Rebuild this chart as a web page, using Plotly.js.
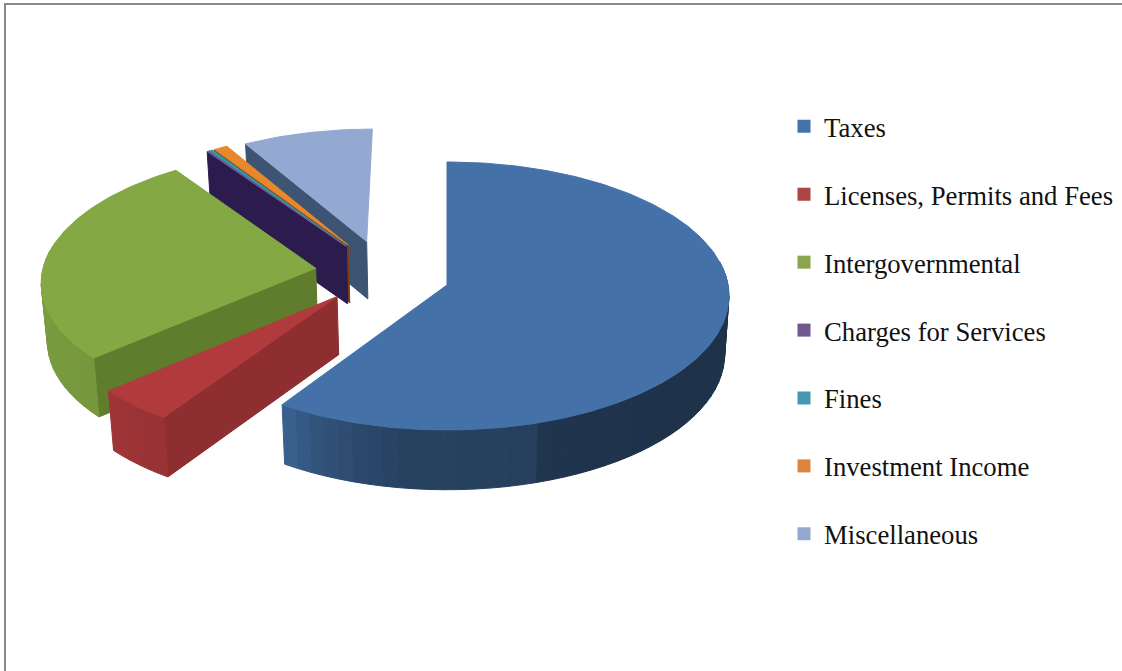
<!DOCTYPE html>
<html>
<head>
<meta charset="utf-8">
<script src="https://cdn.plot.ly/plotly-3.0.1.min.js"></script>
<style>html,body{margin:0;padding:0;background:#fff}#chart{width:1122px;height:671px}</style>
</head>
<body>
<div id="chart"></div>
<script>
// Revenue sources, share of total in percent
const categories = ["Taxes", "Licenses, Permits and Fees", "Intergovernmental", "Charges for Services", "Fines", "Investment Income", "Miscellaneous"];
const shares = [59.2, 4.2, 26.8, 0.1, 0.25, 0.9, 8.55];

// Legend swatches, top faces and cut walls
const legendColors = ["#4573a7", "#aa4643", "#89a54e", "#71588f", "#4198af", "#db843d", "#93a9cf"];
const topColors = ["#4472a8", "#b03a3c", "#83a844", "#71588f", "#2f9aac", "#e8872b", "#93a9d2"];
const wallColors = ["#264a78", "#8e2e30", "#5f7d2d", "#2c1b4d", "#2c1b4d", "#7a3f12", "#3e5473"];

// Tilted-disc camera: plan coordinates (unit radius) to page pixels
const cam = {x0: 447, y0: 285, a: 281, b: 133.1, k: 0.082, depth: 58, depthGrow: 0.012, converge: 0.015};
const explode = 0.245;
// The detached slices sit slightly further back and render a little smaller
const groupShift = [0.006, 0.03];
const sliceRadius = [1, 0.995, 0.98, 0.97, 0.97, 0.97, 0.96];
const rad = d => d * Math.PI / 180;
const dir = d => [Math.sin(rad(d)), Math.cos(rad(d))];

function project(u, v) {
  const w = 1 + cam.k * v;
  return [cam.x0 + cam.a * u / w, cam.y0 - cam.b * v / w];
}
function lower(p) {
  return [p[0] + (cam.x0 - p[0]) * cam.converge, p[1] + cam.depth + (p[1] - cam.y0) * cam.depthGrow];
}

// Darkening of the outer rim against its angle around the disc
const rimLight = [[80, .5], [90, .44], [130, .44], [161, .46], [164, .55], [190, .58], [205, .72], [213, .86], [228, .9], [280, .94]];
function rimShade(t) {
  for (let i = 1; i < rimLight.length; i++) {
    if (t <= rimLight[i][0]) {
      const [t0, s0] = rimLight[i - 1], [t1, s1] = rimLight[i];
      return s0 + (s1 - s0) * (t - t0) / (t1 - t0);
    }
  }
  return rimLight[rimLight.length - 1][1];
}
function scaleColor(hex, s) {
  const n = parseInt(hex.slice(1), 16);
  return `rgb(${Math.round((n >> 16) * s)},${Math.round(((n >> 8) & 255) * s)},${Math.round((n & 255) * s)})`;
}
function poly(pts, color) {
  const xs = pts.map(p => p[0]), ys = pts.map(p => p[1]);
  xs.push(xs[0]); ys.push(ys[0]);
  return {type: "scatter", mode: "lines", x: xs, y: ys, fill: "toself", fillcolor: color,
          line: {color: color, width: 1}, hoverinfo: "skip", showlegend: false};
}

// Angular extent of each slice, clockwise from twelve o'clock
const total = shares.reduce((a, b) => a + b, 0);
let running = 0;
const slices = shares.map((s, i) => {
  const start = running;
  running += s / total * 360;
  return {i, start, end: running, mid: (start + running) / 2};
});
const shift0 = dir(slices[0].mid);

function sliceTraces(sl) {
  const offs = dir(sl.mid);
  const detached = sl.i > 0;
  const ou = explode * (offs[0] - shift0[0]) + (detached ? groupShift[0] : 0);
  const ov = explode * (offs[1] - shift0[1]) + (detached ? groupShift[1] : 0);
  const R = sliceRadius[sl.i];
  const apex = project(ou, ov);
  const rimPoint = t => { const d = dir(t); return project(ou + R * d[0], ov + R * d[1]); };
  const out = [];

  // Cut walls: only those turned towards the viewer
  [[sl.start, sl.start - 90], [sl.end, sl.end + 90]].forEach(([t, normal]) => {
    if (Math.cos(rad(normal)) < -0.01) {
      const p = rimPoint(t);
      out.push(poly([apex, p, lower(p), lower(apex)], wallColors[sl.i]));
    }
  });

  // Outer rim: front half only, split so the shading can vary with angle
  const from = Math.max(sl.start, 80), to = Math.min(sl.end, 280);
  if (to > from) {
    const n = Math.max(1, Math.ceil((to - from) / 3));
    for (let j = 0; j < n; j++) {
      const a = from + (to - from) * j / n, b = from + (to - from) * (j + 1) / n;
      const pa = rimPoint(a), pb = rimPoint(b);
      out.push(poly([pa, pb, lower(pb), lower(pa)], scaleColor(topColors[sl.i], rimShade((a + b) / 2))));
    }
  }

  const span = sl.end - sl.start, m = Math.max(1, Math.ceil(span));
  const top = [apex];
  for (let j = 0; j <= m; j++) top.push(rimPoint(sl.start + span * j / m));
  out.push(poly(top, topColors[sl.i]));
  return out;
}

const traces = [];
// Far slices first so the nearer ones overlap them
[6, 5, 4, 3, 2, 1, 0].forEach(i => sliceTraces(slices[i]).forEach(t => traces.push(t)));

// Legend entries
categories.forEach((name, i) => traces.push({
  type: "scatter", mode: "markers", x: [null], y: [null], name: name, legendgroup: name,
  marker: {symbol: "square", size: 13, color: legendColors[i]}, hoverinfo: "skip"
}));

const layout = {
  width: 1122, height: 671,
  margin: {l: 0, r: 0, t: 0, b: 0},
  paper_bgcolor: "#ffffff", plot_bgcolor: "#ffffff",
  xaxis: {range: [0, 1122], visible: false, fixedrange: true},
  yaxis: {range: [671, 0], visible: false, fixedrange: true},
  showlegend: true,
  legend: {
    x: 784 / 1122, xanchor: "left", y: 1 - 102.5 / 671, yanchor: "top",
    tracegroupgap: 30.2, bgcolor: "rgba(0,0,0,0)",
    font: {family: "Liberation Serif, serif", size: 26.7, color: "#111111"}
  },
  shapes: [
    {type: "line", xref: "x", yref: "y", x0: 4, x1: 1122, y0: 4, y1: 4, line: {color: "#8a8a8a", width: 2}},
    {type: "line", xref: "x", yref: "y", x0: 5, x1: 5, y0: 3, y1: 671, line: {color: "#8a8a8a", width: 2}}
  ]
};
Plotly.newPlot("chart", traces, layout, {displayModeBar: false, staticPlot: true});
</script>
</body>
</html>
